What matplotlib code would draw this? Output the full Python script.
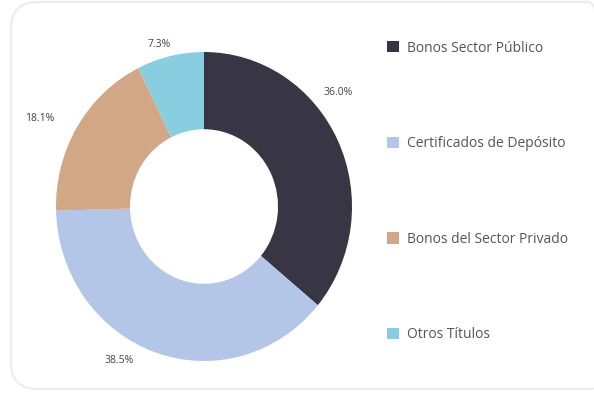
import numpy as np
import matplotlib.pyplot as plt
from matplotlib.patches import FancyBboxPatch, Patch

plt.rcParams['font.family'] = ['Open Sans', 'DejaVu Sans']

# Composición de la cartera por tipo de título
categorias = ['Bonos Sector Público', 'Certificados de Depósito',
              'Bonos del Sector Privado', 'Otros Títulos']
porcentajes = [36.0, 38.5, 18.1, 7.3]
colores = ['#383645', '#b4c6e8', '#d2a786', '#89cde0']

W, H = 594, 394
fig = plt.figure(figsize=(W / 100, H / 100), dpi=100)

# marco redondeado de la tarjeta
marco = FancyBboxPatch((11 / W, 5 / H), (615 - 11) / W, (392 - 5) / H,
                       boxstyle='round,pad=0,rounding_size=0.045',
                       transform=fig.transFigure, facecolor='none',
                       edgecolor='#ececec', linewidth=1.6, mutation_aspect=W / H,
                       zorder=-1)
fig.patches.append(marco)

# ejes del anillo (ligeramente ovalado)
ax = fig.add_axes([56 / W, (H - 361) / H, 296 / W, 309 / H])
wedges, _ = ax.pie(porcentajes, colors=colores, startangle=90, counterclock=False,
                   radius=1.0, wedgeprops=dict(width=0.5, linewidth=0))
ax.set_aspect('auto')
ax.set_xlim(-1, 1)
ax.set_ylim(-1, 1)

# etiquetas de porcentaje alrededor del anillo
ajustes = [(1.17, 14), (1.15, -11), (1.25, 4), (1.09, 3)]
for w, p, (r, da) in zip(wedges, porcentajes, ajustes):
    medio = (w.theta1 + w.theta2) / 2 + da
    x = r * np.cos(np.radians(medio))
    y = r * np.sin(np.radians(medio))
    ax.text(x, y, f'{p:.1f}%', ha='center', va='center', fontsize=7.5,
            color='#444444', clip_on=False)

# leyenda
handles = [Patch(facecolor=c, edgecolor='none') for c in colores]
fig.legend(handles, categorias, loc='upper left',
           bbox_to_anchor=(374 / W, (H - 28) / H), frameon=False,
           fontsize=10, labelcolor='#555555', handlelength=0.9,
           handleheight=0.9, handletextpad=0.55, labelspacing=5.8)

fig.savefig('out.png', dpi=100)
